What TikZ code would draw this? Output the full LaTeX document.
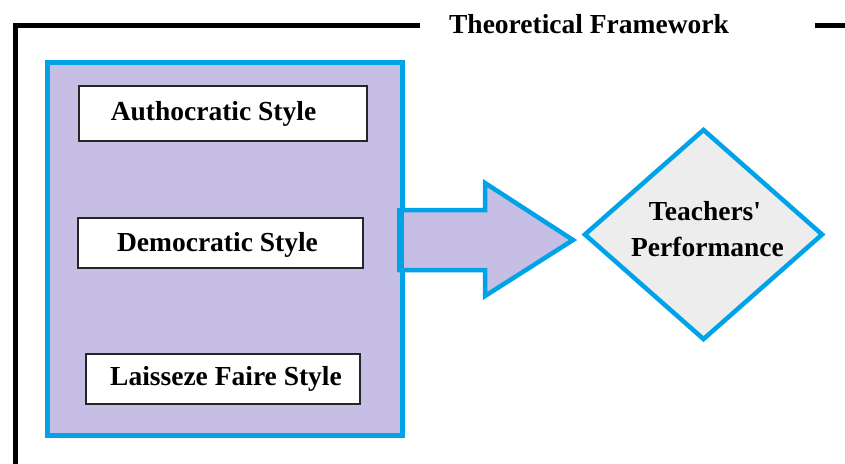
\documentclass[tikz,border=0pt]{standalone}
\usepackage{fontspec}
\setmainfont{Liberation Serif}
\usetikzlibrary{shapes.geometric}
\definecolor{skyblue}{RGB}{0,162,232}
\definecolor{lavender}{RGB}{198,190,229}
\definecolor{lightgrey}{RGB}{237,237,237}
\tikzset{
  frameline/.style={line width=5pt, black},
  groupbox/.style={draw=skyblue, line width=5pt, fill=lavender},
  stylebox/.style={draw=black!85, line width=1.5pt, fill=white, rectangle, inner sep=0pt},
  lbl/.style={font=\fontsize{27.5}{31}\selectfont\bfseries, inner sep=0pt, anchor=base},
  bigarrow/.style={draw=skyblue, line width=4.5pt, fill=lavender, line join=miter},
  decision/.style={diamond, draw=skyblue, line width=4.5pt, fill=lightgrey, inner sep=0pt}
}
\begin{document}
\begin{tikzpicture}[x=1pt, y=-1pt]
\useasboundingbox (0,0) rectangle (845,463);
% frame
\draw[frameline] (420,25) -- (15,25) -- (15,475);
\draw[frameline] (815,25) -- (855,25);
\node[lbl] (title) at (589,33) {Theoretical Framework};
% group box
\draw[groupbox] (47.5,62.5) rectangle (402.5,435.5);
\node[stylebox, minimum width=288pt, minimum height=55pt] (auto) at (223,113.5) {};
\node[lbl] (autot) at (213.5,120.7) {Authocratic Style};
\node[stylebox, minimum width=285pt, minimum height=50pt] (demo) at (220.5,243) {};
\node[lbl] (demot) at (217.5,251.7) {Democratic Style};
\node[stylebox, minimum width=274pt, minimum height=50pt] (lais) at (223,379) {};
\node[lbl] (laist) at (226,385) {Laisseze Faire Style};
% arrow
\draw[bigarrow] (400,210) -- (485,210) -- (485,183) -- (573,240) -- (485,296) -- (485,270) -- (400,270) -- cycle;
\draw[skyblue, line width=7pt] (400,208) -- (400,272);
% diamond
\node[decision, minimum width=239pt, minimum height=211pt] (perf) at (703.5,234.5) {};
\node[lbl] (perft1) at (705,220) {Teachers\textquotesingle};
\node[lbl] (perft2) at (707.5,256) {Performance};
\end{tikzpicture}
\end{document}
